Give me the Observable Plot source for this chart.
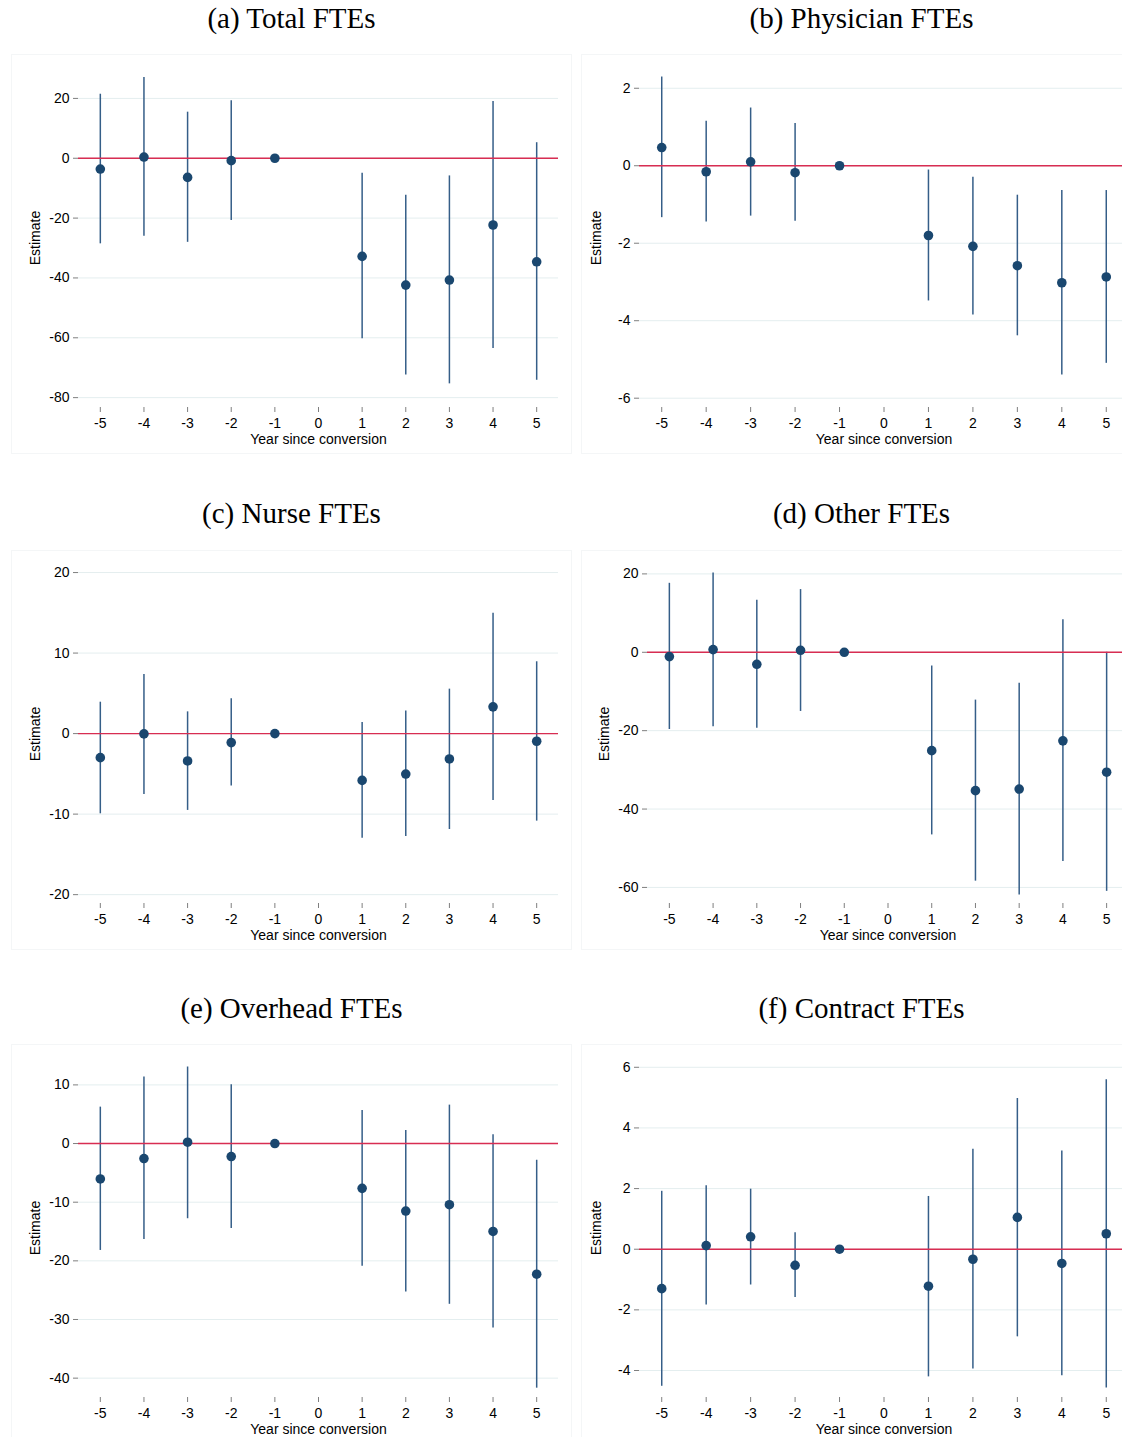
<!DOCTYPE html>
<html>
<head>
<meta charset="utf-8">
<script src="https://cdn.jsdelivr.net/npm/d3@7"></script>
<script src="https://cdn.jsdelivr.net/npm/@observablehq/plot@0.6"></script>
<style>
  html, body { margin: 0; padding: 0; background: #fff; overflow: hidden; }
  #page { position: relative; width: 1122px; height: 1437px; overflow: hidden; background: #fff; }
  .frame { position: absolute; border: 1px solid #f4f6f7; box-sizing: border-box; }
  .title { position: absolute; width: 561px; text-align: center; white-space: nowrap;
           font-family: "Liberation Serif", "Times New Roman", serif; font-size: 29px; line-height: 29px; color: #000; }
  .panel { position: absolute; }
  .panel svg { max-width: none !important; }
</style>
</head>
<body>
<div id="page"></div>
<script>
// ---------- data ----------
const years = [-5, -4, -3, -2, -1, 1, 2, 3, 4, 5];
const xTicks = [-5, -4, -3, -2, -1, 0, 1, 2, 3, 4, 5];
const titles = ["(a) Total FTEs", "(b) Physician FTEs", "(c) Nurse FTEs", "(d) Other FTEs", "(e) Overhead FTEs", "(f) Contract FTEs"];
const xLabel = "Year since conversion";
const yLabel = "Estimate";

const totalEst = [-3.6, 0.4, -6.4, -0.8, 0, -32.8, -42.4, -40.7, -22.3, -34.6];
const totalLo  = [-28.6, -26.1, -28.1, -20.8, 0, -60.3, -72.4, -75.4, -63.6, -74.2];
const totalHi  = [21.4, 27.0, 15.4, 19.2, 0, -5.0, -12.4, -5.9, 19.0, 5.2];
const totalTicks = [-80, -60, -40, -20, 0, 20];

const physEst = [0.47, -0.155, 0.10, -0.18, 0, -1.80, -2.08, -2.58, -3.02, -2.87];
const physLo  = [-1.34, -1.45, -1.30, -1.43, 0, -3.49, -3.85, -4.39, -5.40, -5.10];
const physHi  = [2.29, 1.15, 1.49, 1.09, 0, -0.11, -0.30, -0.76, -0.64, -0.64];
const physTicks = [-6, -4, -2, 0, 2];

const nurseEst = [-2.99, -0.04, -3.40, -1.12, 0, -5.81, -5.02, -3.15, 3.32, -0.95];
const nurseLo  = [-9.96, -7.55, -9.54, -6.51, 0, -12.99, -12.78, -11.91, -8.30, -10.87];
const nurseHi  = [3.90, 7.34, 2.70, 4.32, 0, 1.37, 2.82, 5.52, 14.94, 8.92];
const nurseTicks = [-20, -10, 0, 10, 20];

const otherEst = [-1.1, 0.68, -3.06, 0.51, 0, -25.1, -35.3, -34.9, -22.6, -30.6];
const otherLo  = [-19.7, -19.0, -19.4, -15.1, 0, -46.6, -58.4, -61.9, -53.4, -61.0];
const otherHi  = [17.6, 20.2, 13.3, 16.0, 0, -3.5, -12.2, -7.9, 8.3, 0.0];
const otherTicks = [-60, -40, -20, 0, 20];

const overEst = [-6.04, -2.56, 0.23, -2.22, 0, -7.64, -11.51, -10.43, -14.99, -22.28];
const overLo  = [-18.23, -16.35, -12.82, -14.47, 0, -20.91, -25.30, -27.41, -31.45, -41.71];
const overHi  = [6.21, 11.34, 13.05, 10.03, 0, 5.64, 2.22, 6.55, 1.48, -2.85];
const overTicks = [-40, -30, -20, -10, 0, 10];

const contEst = [-1.30, 0.12, 0.41, -0.53, 0, -1.22, -0.33, 1.05, -0.47, 0.51];
const contLo  = [-4.52, -1.84, -1.18, -1.59, 0, -4.21, -3.95, -2.89, -4.17, -4.58];
const contHi  = [1.91, 2.09, 1.98, 0.54, 0, 1.74, 3.30, 4.97, 3.24, 5.59];
const contTicks = [-4, -2, 0, 2, 4, 6];

// y-axis extents of each panel
const totalDomain = [-83.3, 30];
const physDomain  = [-6.24, 2.51];
const nurseDomain = [-21.1, 21.0];
const otherDomain = [-64.1, 22.4];
const overDomain  = [-43.3, 14.5];
const contDomain  = [-4.89, 6.29];
const xDomain = [-5.5, 5.5];

// ---------- layout ----------
const panels = [
  {title: titles[0], est: totalEst, lo: totalLo, hi: totalHi, ticks: totalTicks, yd: totalDomain, col: 0, row: 0, ml: 78},
  {title: titles[1], est: physEst, lo: physLo, hi: physHi, ticks: physTicks, yd: physDomain, col: 1, row: 0, ml: 78},
  {title: titles[2], est: nurseEst, lo: nurseLo, hi: nurseHi, ticks: nurseTicks, yd: nurseDomain, col: 0, row: 1, ml: 78},
  {title: titles[3], est: otherEst, lo: otherLo, hi: otherHi, ticks: otherTicks, yd: otherDomain, col: 1, row: 1, ml: 86},
  {title: titles[4], est: overEst, lo: overLo, hi: overHi, ticks: overTicks, yd: overDomain, col: 0, row: 2, ml: 78},
  {title: titles[5], est: contEst, lo: contLo, hi: contHi, ticks: contTicks, yd: contDomain, col: 1, row: 2, ml: 78}
];

const page = document.getElementById("page");
const plotTops = [68, 564, 1058];
const titleCenters = [19, 514, 1009];
const frameLeft = [11, 581];
const svgLeft = [0, 561];
const svgWidth = [561, 567];   // right column runs past the page edge and is cropped
const marginRight = [3, 0];

for (const p of panels) {
  const fr = document.createElement("div");
  fr.className = "frame";
  fr.style.left = frameLeft[p.col] + "px";
  fr.style.top = (plotTops[p.row] - 14) + "px";
  fr.style.width = "561px";
  fr.style.height = "400px";
  page.appendChild(fr);

  const t = document.createElement("div");
  t.className = "title";
  t.textContent = p.title;
  t.style.left = frameLeft[p.col] + "px";
  t.style.top = (titleCenters[p.row] - 15) + "px";
  page.appendChild(t);

  const rows = years.map((y, i) => ({year: y, est: p.est[i], lo: p.lo[i], hi: p.hi[i]}));
  const bars = rows.filter(d => d.lo !== d.hi);

  const chart = Plot.plot({
    width: svgWidth[p.col],
    height: 402,
    marginTop: 18,
    marginBottom: 45,
    marginLeft: p.ml,
    marginRight: marginRight[p.col],
    style: {fontFamily: "'Liberation Sans', Arial, sans-serif", fontSize: "14px", background: "transparent", color: "#000", overflow: "visible", maxWidth: "none"},
    x: {type: "linear", domain: xDomain},
    y: {type: "linear", domain: p.yd},
    marks: [
      Plot.gridY(p.ticks, {stroke: "#e4eeef", strokeOpacity: 1, strokeWidth: 1}),
      Plot.ruleX(bars, {x: "year", y1: "lo", y2: "hi", stroke: "#355e88", strokeWidth: 1.5}),
      Plot.ruleY([0], {stroke: "#d82d52", strokeWidth: 1.4}),
      Plot.dot(rows, {x: "year", y: "est", r: 4.8, fill: "#1a476f", stroke: null}),
      Plot.axisX(xTicks, {line: true, tickSize: 5, tickPadding: 6, stroke: "#7f7f7f", fill: "#000",
        tickFormat: d => String(d), label: xLabel, labelArrow: "none", labelAnchor: "center", labelOffset: 36}),
      Plot.axisY(p.ticks, {line: true, tickSize: 5, tickPadding: 4, stroke: "#7f7f7f", fill: "#000",
        tickFormat: d => String(d), label: yLabel, labelArrow: "none", labelAnchor: "center", labelOffset: 48})
    ]
  });
  chart.style.maxWidth = "none";
  chart.style.width = svgWidth[p.col] + "px";
  const wrap = document.createElement("div");
  wrap.className = "panel";
  wrap.style.left = svgLeft[p.col] + "px";
  wrap.style.top = (plotTops[p.row] - 18) + "px";
  wrap.style.width = svgWidth[p.col] + "px";
  wrap.appendChild(chart);
  page.appendChild(wrap);
}
</script>
</body>
</html>
